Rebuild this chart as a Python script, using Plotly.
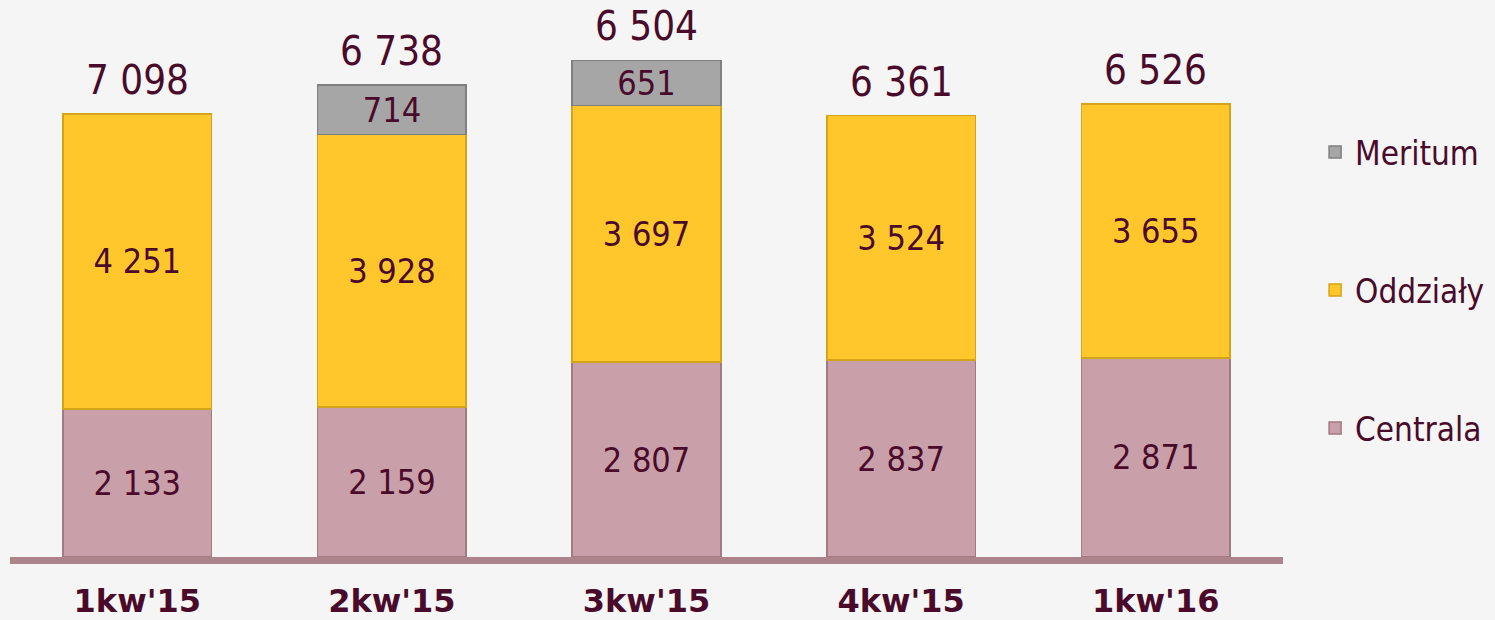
import plotly.graph_objects as go

categories = ["1kw'15", "2kw'15", "3kw'15", "4kw'15", "1kw'16"]
centrala = [2133, 2159, 2807, 2837, 2871]
oddzialy = [4251, 3928, 3697, 3524, 3655]
meritum = [None, 714, 651, None, None]
totals = [7098, 6738, 6504, 6361, 6526]

TXT = "#4A0B2B"
NUMFONT = "DejaVu Sans Condensed, DejaVu Sans, sans-serif"


def fmt(v):
    return "" if v is None else f"{v:,}".replace(",", " ")


fig = go.Figure()
series = [
    ("Centrala", centrala, "#C9A0AA", "#A27A84", "legend3"),
    ("Oddziały", oddzialy, "#FFC72C", "#D4A418", "legend2"),
    ("Meritum", meritum, "#A6A6A6", "#808080", "legend"),
]
for name, vals, col, lcol, leg in series:
    fig.add_trace(go.Bar(
        x=categories, y=vals, name=name,
        marker=dict(color=col, line=dict(color=lcol, width=1.5)),
        text=[fmt(v) for v in vals],
        textposition="inside", insidetextanchor="middle", textangle=0,
        constraintext="none",
        textfont=dict(family=NUMFONT, size=34, color=TXT),
        legend=leg,
    ))

stack_tops = [c + o + (m or 0) for c, o, m in zip(centrala, oddzialy, meritum)]
for cat, top, tot in zip(categories, stack_tops, totals):
    fig.add_annotation(x=cat, y=top, text=fmt(tot), showarrow=False,
                       yanchor="middle", yshift=34,
                       font=dict(family=NUMFONT, size=40, color=TXT))

legfont = dict(family=NUMFONT, size=33, color=TXT)
for key, ypx in (("legend", 152), ("legend2", 290), ("legend3", 428)):
    fig.update_layout({key: dict(x=1.0252, xanchor="left", y=(557 - ypx) / 557,
                                 yanchor="middle", font=legfont,
                                 bgcolor="rgba(0,0,0,0)", borderwidth=0)})

fig.update_layout(
    barmode="stack", bargap=0.416,
    width=1495, height=620,
    margin=dict(l=10, r=212, t=0, b=63, autoexpand=False),
    paper_bgcolor="#F5F5F5", plot_bgcolor="rgba(0,0,0,0)",
    showlegend=True,
    xaxis=dict(showline=True, linecolor="#AE848C", linewidth=7,
               ticks="", showgrid=False, ticklabelstandoff=10,
               automargin=False,
               tickfont=dict(family="DejaVu Sans, sans-serif", size=32,
                             color=TXT, weight="bold")),
    yaxis=dict(visible=False, range=[0, 8026], showgrid=False),
)

fig.write_html("out.html", config={"displayModeBar": False},
               post_script="document.body.style.margin='0';document.body.style.overflow='hidden';")
